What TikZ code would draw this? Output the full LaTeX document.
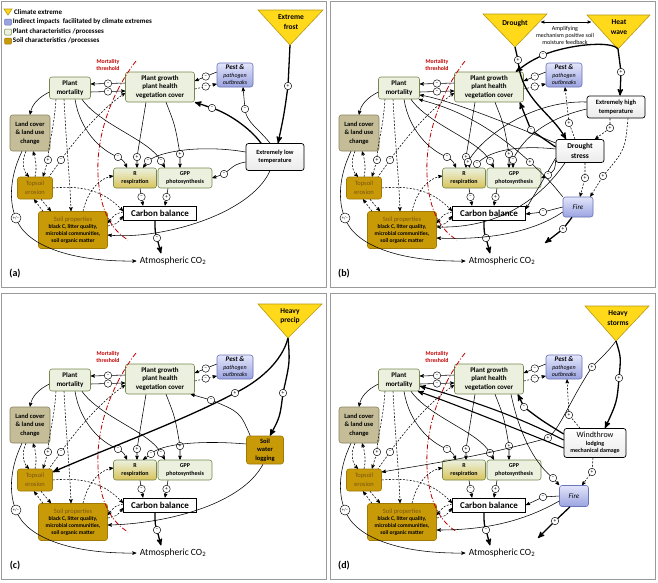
\documentclass[tikz,border=0pt]{standalone}
\usepackage{fontspec}
\setmainfont{Carlito}
\usetikzlibrary{arrows}
\usetikzlibrary{shapes}
\usetikzlibrary{positioning}

\definecolor{plantfill}{HTML}{EBF1DE}
\definecolor{plantline}{HTML}{76884F}
\definecolor{landfill}{HTML}{C4BD97}
\definecolor{landline}{HTML}{8C8462}
\definecolor{soilfill}{HTML}{C89A08}
\definecolor{soilline}{HTML}{A07A05}
\definecolor{soiltext}{HTML}{7A5410}
\definecolor{pesttop}{HTML}{E2E5FA}
\definecolor{pestbot}{HTML}{9AA3E0}
\definecolor{pestline}{HTML}{6A74B8}
\definecolor{respbot}{HTML}{D9C35A}
\definecolor{trifill}{HTML}{FFD91A}
\definecolor{triline}{HTML}{B89A10}
\definecolor{thrcol}{HTML}{C00000}
\definecolor{framecol}{HTML}{9A9A9A}

\newcommand{\fs}[2]{\fontsize{#1}{#2}\selectfont}
\newcommand{\pth}[1]{{\mdseries\itshape\fs{6}{7}#1}}

\tikzset{
  box/.style={draw=plantline, fill=plantfill, rounded corners=2.5pt, line width=0.6pt, align=center, inner sep=1pt, font=\bfseries\fs{7}{8.6}},
  landbox/.style={box, draw=landline, fill=landfill},
  soilbox/.style={box, draw=soilline, fill=soilfill},
  pestbox/.style={box, draw=pestline, top color=pesttop, bottom color=pestbot},
  whitebox/.style={box, draw=black, line width=0.7pt, top color=white, bottom color=black!8},
  cbox/.style={draw=black, line width=0.9pt, fill=white, inner sep=1pt, minimum width=73pt, minimum height=14pt, font=\bfseries\fs{9}{10}},
  sgn/.style={circle, draw, solid, line width=0.45pt, fill=white, inner sep=0pt, minimum size=7.5pt, font=\fs{5.5}{5.5}},
  pmsgn/.style={sgn, minimum size=10pt, font=\fs{4.5}{4.5}},
  link/.style={->, >=stealth', line width=0.55pt},
  dlink/.style={link, dash pattern=on 2pt off 1.5pt},
  tlink/.style={link, line width=1.3pt},
  trishape/.style={fill=trifill, draw=triline, line width=0.6pt},
  trilabel/.style={align=center, font=\bfseries\fs{7.5}{9.5}},
  threshold/.style={thrcol, line width=0.8pt, dash pattern=on 5pt off 2pt on 1pt off 2pt},
  frame/.style={draw=framecol, line width=1pt},
  legtext/.style={anchor=west, inner sep=1pt, font=\bfseries\fs{7}{8}},
  legicon/.style={minimum width=7pt, minimum height=6pt, inner sep=0pt, rounded corners=1pt, line width=0.5pt},
}

\newcommand{\basepanel}[1]{%
  \draw[frame] (1.5,1.5) rectangle (326,287);
  \node[box, minimum width=41pt, minimum height=22pt] (mort) at (70,88) {Plant\\mortality};
  \node[box, minimum width=69pt, minimum height=30pt] (grow) at (160,87) {Plant growth\\plant health\\vegetation cover};
  \node[pestbox, minimum width=36pt, minimum height=24pt, font=\bfseries\itshape\fs{7}{7.5}] (pest) at (235,75) {Pest \&\\\pth{pathogen}\\\pth{outbreaks}};
  \node[landbox, minimum width=40pt, minimum height=36pt, font=\bfseries\fs{6.5}{8.5}] (land) at (30,133) {Land cover\\\& land use\\change};
  \node[soilbox, minimum width=35pt, minimum height=22pt, text=soiltext, font=\fs{6.5}{8.5}] (topsoil) at (35,188) {Topsoil\\erosion};
  \node[soilbox, minimum width=69pt, minimum height=37pt, font=\bfseries\fs{5.6}{7}] (soil) at (73,230) {{\mdseries\color{soiltext}\fs{6.5}{7}Soil properties}\\black C, litter quality,\\microbial communities,\\soil organic matter};
  \node[box, top color=plantfill, bottom color=respbot, minimum width=43pt, minimum height=20pt, font=\bfseries\fs{6}{7.5}] (resp) at (135,178) {R\\respiration};
  \node[box, minimum width=54pt, minimum height=20pt, font=\bfseries\fs{6}{7.5}] (gpp) at (185,178) {GPP\\photosynthesis};
  \node[cbox] (cbal) at (160,213) {Carbon balance};
  \node[font=\fs{9.5}{10}] (atm) at (173,261) {Atmospheric CO\textsubscript{2}};
  \node[font=\bfseries\fs{10}{10}] (lab) at (15,274) {(#1)};
  \node[font=\bfseries\fs{5.8}{7}, text=thrcol, align=center] (thr) at (108,65) {Mortality\\threshold};
  \draw[threshold] (136,61) .. controls (112,92) and (96,135) .. (98,175) .. controls (100,212) and (112,230) .. (128,240);
  \draw[link] ([yshift=4pt]grow.west) -- node[sgn]{--} ([yshift=4pt]mort.east);
  \draw[link] ([yshift=-4pt]mort.east) -- node[sgn]{--} ([yshift=-4pt]grow.west);
  \draw[link] ([yshift=3pt]pest.west) -- node[sgn]{--} ([yshift=6pt]grow.east);
  \draw[dlink] ([yshift=-2pt]grow.east) -- node[sgn]{--} ([yshift=-9pt]pest.west);
  \draw[link] ([yshift=-4pt]mort.west) .. controls (38,98) and (32,104) .. (land.north);
  \draw[dlink] ([xshift=-14pt]mort.south) .. controls (54,130) and (48,145) .. (48,160) node[sgn]{+} -- ([xshift=8pt]topsoil.north);
  \draw[dlink, <-] ([yshift=-6pt]grow.west) .. controls (100,110) and (75,140) .. (61,160) node[sgn]{--} -- ([xshift=14pt]topsoil.north);
  \draw[dlink] ([xshift=-6pt]mort.south) .. controls (66,140) and (70,180) .. ([xshift=-2pt]soil.north);
  \draw[dlink] ([xshift=-4pt]land.south) .. controls (22,160) and (22,170) .. ([xshift=-6pt]topsoil.north);
  \draw[dlink] ([xshift=0pt]topsoil.north) .. controls (37,168) and (36,160) .. ([xshift=3pt]land.south);
  \draw[dlink] (topsoil.east) .. controls (85,185) and (105,192) .. ([yshift=2pt]cbal.west);
  \draw[dlink] ([xshift=6pt]topsoil.south) -- ([xshift=-22pt]soil.north);
  \draw[dlink] ([xshift=-30pt]soil.north) -- ([xshift=-1pt]topsoil.south);
  \draw[dlink] ([xshift=10pt]soil.north) .. controls (88,190) and (100,178) .. ([yshift=2pt]resp.west);
  \draw[dlink] ([yshift=1pt]cbal.west) .. controls (115,214) .. ([yshift=7pt]soil.east);
  \draw[dlink] ([yshift=4pt]soil.east) .. controls (117,224) .. ([yshift=-3pt]cbal.west);
  \draw[link] ([xshift=5pt]resp.south) -- node[sgn]{--} ([xshift=-17pt]cbal.north);
  \draw[link] ([xshift=-17pt]gpp.south) -- node[sgn]{+} ([xshift=5pt]cbal.north);
  \draw[tlink] ([xshift=-5pt]cbal.south) .. controls (155,232) .. (157,238) node[sgn]{--} -- ([xshift=-12pt]atm.north);
  \draw[link] ([xshift=-8pt]land.south) .. controls (8,180) and (10,205) .. (16,218) node[pmsgn]{+/--} .. controls (25,245) and (70,262) .. (atm.west);
  \draw[link] ([xshift=5pt]mort.south) .. controls (80,130) and (100,150) .. (118,157) node[sgn]{--} .. controls (124,161) .. ([xshift=-8pt]resp.north);
  \draw[link] ([xshift=12pt]mort.south) .. controls (100,125) and (150,140) .. (161,161) node[sgn]{--} -- ([xshift=-20pt]gpp.north);
  \draw[link] ([xshift=-14pt]grow.south) .. controls (142,130) .. (137,157) node[sgn]{+} -- ([xshift=2pt]resp.north);
  \draw[link] ([xshift=6pt]grow.south) .. controls (175,125) .. (180,154) node[sgn]{+} -- ([xshift=-5pt]gpp.north);
}

\begin{document}
\begin{tikzpicture}[x=1pt, y=-1pt]
\useasboundingbox (0,0) rectangle (658,582);
\fill[white] (0,0) rectangle (658,582);

\begin{scope}[name prefix=a-]
  \basepanel{a}
  \filldraw[trishape] (4,9) -- (12,9) -- (8,15) -- cycle;
  \node[legtext] (leg1) at (13,12) {Climate extreme};
  \node[legicon, fill=pestbot, draw=pestline] (ic2) at (8,22) {};
  \node[legtext, right=0pt of ic2] (leg2) {Indirect impacts\ \ facilitated by climate extremes};
  \node[legicon, fill=plantfill, draw=plantline] (ic3) at (8,32) {};
  \node[legtext, right=0pt of ic3] (leg3) {Plant characteristics /processes};
  \node[legicon, fill=soilfill, draw=soilline] (ic4) at (8,41) {};
  \node[legtext, right=0pt of ic4] (leg4) {Soil characteristics /processes};
  \filldraw[trishape] (258,10) -- (323,10) -- (290,45) -- cycle;
  \node[trilabel] (frost) at (291,22) {Extreme\\frost};
  \coordinate (frosttip) at (290,45);
  \node[whitebox, minimum width=58pt, minimum height=27pt, font=\bfseries\fs{6.3}{8.5}] (lowt) at (275,157) {Extremely low\\temperature};
  \draw[tlink] (frosttip) -- (288,86) node[sgn]{+} .. controls (284,115) .. ([xshift=3pt]lowt.north);
  \draw[tlink] ([xshift=-14pt]lowt.north) .. controls (250,128) and (228,113) .. (212,108) node[sgn]{--} .. controls (204,105) .. (grow.south east);
  \draw[link] ([xshift=-5pt]lowt.north) .. controls (258,128) and (246,122) .. (245,109) node[sgn]{--} -- ([xshift=8pt]pest.south);
  \draw[link] ([yshift=5pt]lowt.west) .. controls (205,145) and (162,150) .. (148,161) node[sgn]{--} -- ([xshift=8pt]resp.north);
  \draw[link] ([yshift=-5pt]lowt.west) .. controls (236,164) .. (224,174) node[sgn]{--} -- (gpp.east);
  \draw[link] ([xshift=-5pt]lowt.south) .. controls (250,215) and (160,240) .. ([yshift=-5pt]soil.east);
\end{scope}

\begin{scope}[shift={(329,0)}, name prefix=b-]
  \basepanel{b}
  \filldraw[trishape] (154,14) -- (218,14) -- (186,47) -- cycle;
  \node[trilabel] (drought) at (186,23) {Drought};
  \coordinate (droughttip) at (186,47);
  \filldraw[trishape] (258,15) -- (321,15) -- (289,49) -- cycle;
  \node[trilabel] (heat) at (290,27) {Heat\\wave};
  \coordinate (heattip) at (289,49);
  \coordinate (ampl) at (212,22);
  \coordinate (ampr) at (262,22);
  \draw[<->, >=stealth', line width=0.4pt] (ampl) -- (ampr);
  \node[font=\fs{6}{7}, align=center] (amp) at (236,35) {Amplifying\\mechanism positive soil\\moisture feedback};
  \node[whitebox, minimum width=58pt, minimum height=22pt, font=\bfseries\fs{6.5}{8.5}] (hitemp) at (287,107) {Extremely high\\temperature};
  \node[whitebox, minimum width=48pt, minimum height=23pt, font=\bfseries\fs{7.5}{9.5}] (dstress) at (251,151) {Drought\\stress};
  \node[pestbox, minimum width=30pt, minimum height=20pt, font=\mdseries\itshape\fs{7}{8}] (fire) at (249,207) {Fire};
  \coordinate (fireend) at (216,243);
  \draw[tlink] (droughttip) -- (189,60) node[sgn]{+} .. controls (192,100) and (222,112) .. ([xshift=-14pt]dstress.north);
  \draw[tlink] (heattip) .. controls (282,40) and (238,45) .. (214,55) node[sgn]{--} .. controls (200,62) .. ([xshift=-8pt]grow.north east);
  \draw[tlink] (heattip) -- (292,72) node[sgn]{+} -- ([xshift=4pt]hitemp.north);
  \draw[dlink] ([xshift=-6pt]hitemp.south) -- (281,128) node[sgn]{+} -- ([xshift=15pt]dstress.north);
  \draw[dlink] ([xshift=-5pt]dstress.north) -- (240,123) node[sgn]{+} -- ([xshift=1pt]pest.south);
  \draw[tlink] ([yshift=4pt]dstress.west) .. controls (215,138) .. (202,130) node[sgn]{--} -- ([xshift=-4pt]grow.south east);
  \draw[dlink] ([xshift=5pt]dstress.south) -- (256,178) node[sgn]{+} -- ([xshift=2pt]fire.north);
  \draw[dlink] ([xshift=12pt]hitemp.south) .. controls (296,150) .. (274,176) node[sgn]{+} -- ([xshift=-3pt]fire.north east);
  \draw[link] (fire.west) -- (214,212) node[sgn]{--} -- ([yshift=-1pt]cbal.east);
  \draw[tlink] ([xshift=-6pt]fire.south) -- (234,229) node[sgn]{+} -- (fireend);
  \draw[link] ([yshift=-5pt]fire.west) .. controls (200,235) and (150,240) .. ([yshift=-8pt]soil.east);
  \draw[link] ([xshift=-15pt]dstress.south) .. controls (200,215) and (150,228) .. ([yshift=3pt]soil.east);
  \draw[link] ([yshift=-7pt]dstress.west) .. controls (214,180) .. ([yshift=4pt]cbal.east);
  \draw[link] ([yshift=5pt]hitemp.west) .. controls (200,100) and (150,140) .. (139,162) node[sgn]{+} -- ([xshift=6pt]resp.north);
  \draw[link] ([yshift=-2pt]hitemp.west) .. controls (210,120) and (190,145) .. (184,160) node[sgn]{--} -- ([xshift=-1pt]gpp.north);
  \draw[link] ([yshift=2pt]dstress.west) .. controls (190,145) and (160,150) .. (148,164) node[sgn]{--} -- ([xshift=12pt]resp.north);
  \draw[link] ([yshift=-9pt]dstress.west) .. controls (226,170) .. (219,175) node[sgn]{--} -- (gpp.east);
  \draw[link] ([yshift=8pt]dstress.west) .. controls (170,120) and (120,100) .. ([yshift=-7pt]mort.east);
  \draw[link] (fire.north west) .. controls (220,180) .. (201,162) node[sgn]{+} .. controls (150,115) and (110,105) .. ([xshift=-1pt]mort.south east);
\end{scope}

\begin{scope}[shift={(0,292)}, name prefix=c-]
  \basepanel{c}
  \filldraw[trishape] (258,12) -- (322,12) -- (288,46) -- cycle;
  \node[trilabel] (precip) at (290,24) {Heavy\\precip};
  \coordinate (preciptip) at (288,46);
  \node[soilbox, minimum width=37pt, minimum height=28pt, font=\bfseries\fs{6.5}{8.5}] (waterlog) at (265,158) {Soil\\water\\logging};
  \draw[tlink] (preciptip) .. controls (290,70) .. (283,101) node[sgn]{+} .. controls (280,125) .. ([xshift=5pt]waterlog.north);
  \draw[tlink] (preciptip) .. controls (282,70) and (258,90) .. (235,101) node[sgn]{+} .. controls (180,130) and (110,155) .. ([yshift=8pt]topsoil.east);
  \draw[link] ([xshift=4pt]waterlog.north west) .. controls (240,120) .. (211,108) node[sgn]{--} -- ([xshift=-4pt]grow.south east);
  \draw[link] ([yshift=6pt]waterlog.west) .. controls (200,148) and (160,152) .. (151,162) node[sgn]{--} -- ([xshift=8pt]resp.north);
  \draw[link] ([xshift=-2pt]waterlog.south) .. controls (240,215) and (160,232) .. ([yshift=-3pt]soil.east);
\end{scope}

\begin{scope}[shift={(329,292)}, name prefix=d-]
  \basepanel{d}
  \filldraw[trishape] (256,14) -- (320,14) -- (287,49) -- cycle;
  \node[trilabel] (storms) at (289,26) {Heavy\\storms};
  \coordinate (stormstip) at (287,49);
  \node[whitebox, minimum width=62pt, minimum height=29pt, font=\bfseries\fs{6}{7.5}] (windthrow) at (266,151) {{\mdseries\fs{8}{9}Windthrow}\\lodging\\mechanical damage};
  \node[pestbox, minimum width=29pt, minimum height=21pt, font=\mdseries\itshape\fs{7}{8}] (fire) at (245,204) {Fire};
  \coordinate (fireend) at (209,246);
  \draw[tlink] (stormstip) .. controls (292,65) .. (290,86) node[sgn]{+} .. controls (288,110) .. ([xshift=10pt]windthrow.north);
  \draw[link] (stormstip) .. controls (280,58) .. (263,75) node[sgn]{+} .. controls (240,110) and (232,135) .. (219,146) node[sgn]{+} .. controls (150,165) and (100,172) .. ([yshift=8pt]topsoil.east);
  \draw[tlink] ([yshift=9pt]windthrow.west) .. controls (212,128) .. (195,115) node[sgn]{--} -- ([xshift=-6pt]grow.south east);
  \draw[dlink] ([xshift=-15pt]windthrow.north) -- (240,123) node[sgn]{+} -- ([xshift=3pt]pest.south);
  \draw[tlink, line width=1.1pt] ([yshift=3pt]windthrow.west) .. controls (180,120) and (130,105) .. ([yshift=-6pt]mort.east);
  \draw[tlink, line width=1.1pt] ([yshift=-5pt]windthrow.west) .. controls (170,130) and (120,110) .. ([xshift=-2pt]mort.south east);
  \draw[dlink] ([xshift=-2pt]windthrow.south) -- (263,180) node[sgn]{+} -- ([xshift=8pt]fire.north);
  \draw[link] ([xshift=22pt]grow.south) .. controls (192,150) and (210,175) .. (224,186) node[sgn]{--} -- (fire.north west);
  \draw[link] (fire.west) -- (214,205) node[sgn]{--} -- (cbal.east);
  \draw[tlink] ([xshift=-4pt]fire.south) -- (226,229) node[sgn]{+} -- (fireend);
  \draw[link] ([yshift=-5pt]fire.west) .. controls (190,232) and (150,238) .. ([yshift=-8pt]soil.east);
\end{scope}
\end{tikzpicture}
\end{document}
